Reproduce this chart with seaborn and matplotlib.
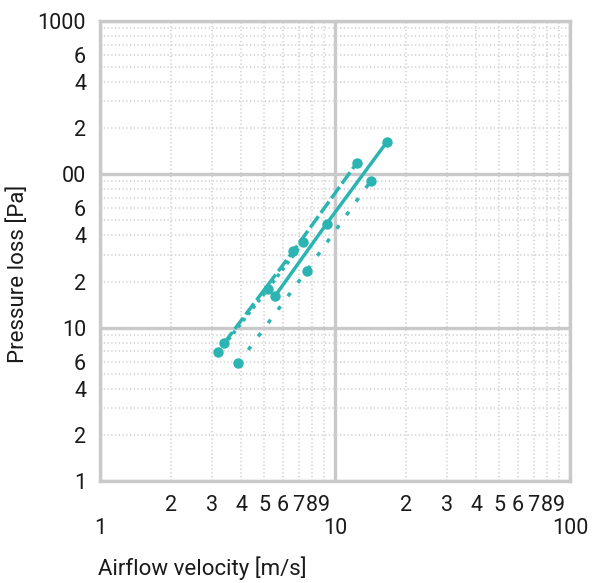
import numpy as np
import pandas as pd
import matplotlib
matplotlib.use("Agg")
import matplotlib.pyplot as plt
import seaborn as sns

# ---- data ----
series_names = ["dashed", "dense_dotted", "solid", "sparse_dotted"]
vel_dashed = [3.37, 6.65, 12.4]
prs_dashed = [7.9, 31.6, 119]
vel_dense = [3.19, 5.17, 7.33]
prs_dense = [6.9, 17.8, 36.1]
vel_solid = [5.56, 9.22, 16.6]
prs_solid = [16.1, 47.7, 162]
vel_sparse = [3.88, 7.58, 14.2]
prs_sparse = [5.86, 23.5, 90.6]

x_minor_labels = ["2", "3", "4", "5", "6", "7", "8", "9"]
x_major_labels = ["1", "10", "100"]
y_major_labels = ["1", "10", "00", "1000"]

COLOR = "#2cb4b2"
GRID = "#c9c9c9"

df = pd.DataFrame({
    "velocity": vel_dashed + vel_dense + vel_solid + vel_sparse,
    "pressure": prs_dashed + prs_dense + prs_solid + prs_sparse,
    "series": (["dashed"] * len(vel_dashed) + ["dense_dotted"] * len(vel_dense)
               + ["solid"] * len(vel_solid) + ["sparse_dotted"] * len(vel_sparse)),
})

sns.set_style("white")
plt.rcParams["font.family"] = ["Roboto", "DejaVu Sans"]
plt.rcParams["font.weight"] = "normal"

fig = plt.figure(figsize=(5.96, 5.83), dpi=100)
ax = fig.add_axes([100 / 596, 1 - 481 / 583, 470 / 596, 460 / 583])

sns.lineplot(
    data=df, x="velocity", y="pressure", hue="series", style="series",
    palette={s: COLOR for s in series_names},
    dashes={"dashed": (4, 1.2), "dense_dotted": (1, 1.3), "solid": "",
            "sparse_dotted": (1.2, 3.6)},
    markers={s: "o" for s in series_names},
    markersize=7.5, markeredgewidth=0, linewidth=2.5,
    legend=False, ax=ax, sort=False, estimator=None, zorder=5,
)

ax.set_xscale("log")
ax.set_yscale("log")
ax.set_xlim(1, 100)
ax.set_ylim(1, 1000)

# x ticks
ax.set_xticks([1, 10, 100])
ax.set_xticklabels(x_major_labels)
xminor = [m * d for d in (1, 10) for m in range(2, 10)]
ax.set_xticks(xminor, minor=True)
ax.set_xticklabels(x_minor_labels * 2, minor=True)
ax.tick_params(axis="x", which="major", length=0, pad=27, labelsize=15.5)
ax.tick_params(axis="x", which="minor", length=0, pad=10, labelsize=15.5)

# y ticks
ax.set_yticks([1, 10, 100, 1000])
ax.set_yticklabels(y_major_labels)
yminor = [m * d for d in (1, 10, 100) for m in range(2, 10)]
ylabels_minor = [str(m) if m in (2, 4, 6) else "" for d in (1, 10, 100) for m in range(2, 10)]
ax.set_yticks(yminor, minor=True)
ax.set_yticklabels(ylabels_minor, minor=True)
ax.tick_params(axis="y", which="both", length=0, pad=10, labelsize=15.5)

for lbl in ax.get_xticklabels() + ax.get_xticklabels(minor=True) + \
        ax.get_yticklabels() + ax.get_yticklabels(minor=True):
    lbl.set_color("#1a1a1a")

# grid
ax.grid(which="minor", color="#d9d9d9", lw=1.5, ls=(0, (0.6, 1.2)), zorder=0)
ax.grid(which="major", color=GRID, lw=2.4, ls="-", zorder=1)
ax.set_axisbelow(True)
for sp in ax.spines.values():
    sp.set_color(GRID)
    sp.set_linewidth(2.4)
    sp.set_visible(True)

ax.set_xlabel("")
ax.set_ylabel("")
fig.text(98 / 596, 1 - 568 / 583, "Airflow velocity [m/s]", ha="left", va="center",
         fontsize=16, color="#1a1a1a")
fig.text(18 / 596, 1 - 274 / 583, "Pressure loss [Pa]", ha="center", va="center",
         rotation=90, fontsize=16, color="#1a1a1a")

fig.savefig("out.png", dpi=100)
